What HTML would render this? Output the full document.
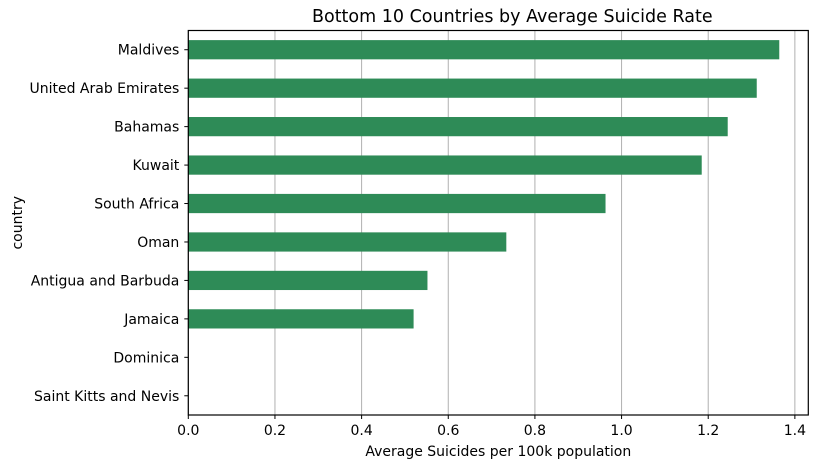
<!DOCTYPE html>
<html><head><meta charset="utf-8"><style>
body{margin:0;background:#fff;font-family:"Liberation Sans","DejaVu Sans",sans-serif;}
svg text{font-family:"DejaVu Sans","Liberation Sans",sans-serif;}
</style></head><body>
<svg id="chart" width="818" height="468" xmlns="http://www.w3.org/2000/svg"></svg>
<script>
const categories=["Maldives","United Arab Emirates","Bahamas","Kuwait","South Africa","Oman","Antigua and Barbuda","Jamaica","Dominica","Saint Kitts and Nevis"];
const values=[1.364,1.312,1.245,1.185,0.963,0.734,0.552,0.520,0,0];
const xTicks=[0,0.2,0.4,0.6,0.8,1.0,1.2,1.4];
const xTickLabels=["0.0","0.2","0.4","0.6","0.8","1.0","1.2","1.4"];
const L=188.3,R=808.3,T=30.5,B=415,xMax=1.431;
const svg=document.getElementById('chart');const NS="http://www.w3.org/2000/svg";
function x(v){return L+v/xMax*(R-L);}
const band=(B-T)/categories.length;
function y(i){return T+band*(i+0.5);}
function mk(t,a,p){const e=document.createElementNS(NS,t);for(const k in a)e.setAttribute(k,a[k]);(p||svg).appendChild(e);return e;}
xTicks.forEach((v,i)=>{
 const g=mk('line',{x1:x(v),x2:x(v),y1:T,y2:B,stroke:'#b0b0b0','stroke-width':1});
 
 
 mk('line',{x1:x(v),x2:x(v),y1:B,y2:B+4,stroke:'#000'});
 const t=mk('text',{x:x(v),y:B+20,'text-anchor':'middle','font-size':14});t.textContent=xTickLabels[i];
 
 
});
categories.forEach((c,i)=>{
 const r=mk('rect',{x:L,y:y(i)-band*0.25,width:x(values[i])-L,height:band*0.5,fill:'#2e8b57'});
 
 
 mk('line',{x1:L-4,x2:L,y1:y(i),y2:y(i),stroke:'#000'});
 const t=mk('text',{x:L-9,y:y(i)+5,'text-anchor':'end','font-size':14});t.textContent=c;
 
 
});
const f=mk('rect',{x:L,y:T,width:R-L,height:B-T,fill:'none',stroke:'#000','stroke-width':1.2});


let t=mk('text',{x:(L+R)/2+14,y:22,'text-anchor':'middle','font-size':17.5});t.textContent="Bottom 10 Countries by Average Suicide Rate";


t=mk('text',{x:(L+R)/2,y:456,'text-anchor':'middle','font-size':14});t.textContent="Average Suicides per 100k population";


t=mk('text',{x:22,y:(T+B)/2,'text-anchor':'middle','font-size':14,transform:`rotate(-90 22 ${(T+B)/2})`});t.textContent="country";


</script>
</body></html>
